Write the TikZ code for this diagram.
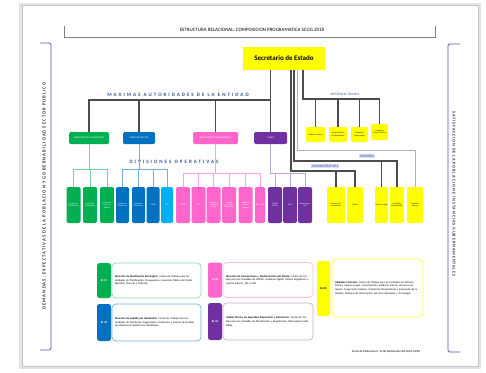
\documentclass[tikz,border=0pt]{standalone}
\usepackage{fontspec}
\setmainfont{Carlito}
\newfontfamily\spaced[LetterSpace=40]{Carlito}
\newfontfamily\sidefont[LetterSpace=22]{Carlito}

\definecolor{cgreen}{HTML}{00B050}
\definecolor{cblue}{HTML}{0070C0}
\definecolor{clight}{HTML}{00B0F0}
\definecolor{cpink}{HTML}{FF66CC}
\definecolor{cpurple}{HTML}{7030A0}
\definecolor{cyellow}{HTML}{FFFF00}
\definecolor{ctext}{HTML}{2F5597}

\tikzset{
  conn/.style={draw=black!70, line width=1.1pt},
  thin conn/.style={draw=black!30, line width=0.9pt},
  head/.style={fill=#1, rounded corners=1.5pt, minimum height=12pt, inner sep=0pt,
    text=white, font=\fontsize{2.4}{2.8}\selectfont},
  div/.style={fill=#1, rounded corners=2pt, minimum width=14pt, minimum height=36pt,
    inner sep=0pt, text width=12pt, align=center, text=white,
    font=\fontsize{2}{2.4}\selectfont},
  tab/.style={fill=#1, rounded corners=2.5pt, minimum width=14pt, inner sep=0pt,
    text=white, font=\bfseries\fontsize{2.8}{3}\selectfont},
  note/.style={draw=#1, line width=0.7pt, rounded corners=4pt, inner sep=3pt,
    text width=83pt, align=left, font=\fontsize{2.7}{3.7}\selectfont},
  tag/.style={fill=blue!12, inner sep=0.6pt, text=ctext, font=\fontsize{3.6}{4}\selectfont}
}

\begin{document}
\begin{tikzpicture}[x=1pt,y=-1pt]
  \useasboundingbox (0,0) rectangle (486,372);

  % Page
  \fill[gray!22] (19,3) rectangle (481,369);
  \filldraw[fill=white, draw=gray!45] (22,5) rectangle (478,366);

  % Title
  \draw[gray, line width=0.6pt] (64,26) -- (64,37) -- (435,37) -- (435,26);
  \node[font=\fontsize{5}{5.5}\selectfont] (title) at (252,30)
    {ESTRUCTURA RELACIONAL: COMPOSICION PROGRAMATICA SCGG 2018};

  % Side brackets
  \draw[blue!35!gray, line width=0.8pt, rounded corners=1.5pt]
    (40,43) -- (51,43) -- (51,350) -- (40,350);
  \node[rotate=90, font=\sidefont\bfseries\fontsize{4.7}{5}\selectfont, text=black!80]
    (left) at (44.5,196) {DEMANDAS, EXPECTATIVAS DE LA POBLACION Y GOBERNABILIDAD SECTOR PUBLICO};
  \draw[blue!35!gray, line width=0.8pt, rounded corners=1.5pt]
    (460,44) -- (448,44) -- (448,352) -- (460,352);
  \node[rotate=-90, font=\sidefont\bfseries\fontsize{4.2}{5}\selectfont, text=black!80]
    (right) at (454,194) {SATISFACCION DE LA POBLACION E INSTANCIAS GUBERNAMENTALES};

  % Secretario
  \node[fill=cyellow, minimum width=82pt, minimum height=23pt, inner sep=0pt,
    font=\bfseries\fontsize{7}{8}\selectfont] (s) at (284,58.5) {Secretario de Estado};

  % Maximas autoridades
  \node[font=\spaced\bfseries\fontsize{5}{6}\selectfont, text=ctext] (mt) at (178,95)
    {MAXIMAS AUTORIDADES DE LA ENTIDAD};
  \node[head=cgreen, minimum width=40pt] (m1) at (89,138) {DIRECCIÓN DE PLANIFICACIÓN};
  \node[head=cblue, minimum width=32pt] (m2) at (139,138) {DIRECCIÓN DE GPR};
  \node[head=cpink, minimum width=45pt] (m3) at (215.5,138) {DIRECCIÓN DE TRANSPARENCIA};
  \node[head=cpurple, minimum width=33pt] (m4) at (270.5,138) {UTSAN};

  \coordinate (mb) at (0,100);
  \draw[conn] (s.south -| m4.north) -- (m4.north);
  \draw[conn] (m1.north) |- (mb -| m4.north);
  \draw[conn] (m2.north) -- (m2.north |- mb);
  \draw[conn] (m3.north) -- (m3.north |- mb);

  % Divisiones operativas
  \node[font=\spaced\bfseries\fontsize{5}{6}\selectfont, text=ctext] (dt) at (174,162)
    {DIVISIONES OPERATIVAS};
  \node[div=cgreen] (g1) at (73.5,205) {Unidad de Planificación};
  \node[div=cgreen] (g2) at (90,205) {Unidad de Presupuesto};
  \node[div=cgreen] (g3) at (107,205) {Unidad de Inversión Pública};
  \node[div=cblue, minimum width=13pt] (b1) at (122.5,205) {Unidad de Monitoreo};
  \node[div=cblue, minimum width=13pt] (b2) at (138.5,205) {Unidad de Evaluación};
  \node[div=cblue, minimum width=13pt] (b3) at (153,205) {SIGPR};
  \node[div=clight, minimum width=12pt, text width=11pt] (b4) at (167,205) {CDI};
  \node[div=cpink] (p1) at (183,205) {ONCAE};
  \node[div=cpink] (p2) at (198.5,205) {UGD};
  \node[div=cpink] (p3) at (213.5,205) {Unidad de Gobierno Digital};
  \node[div=cpink] (p4) at (229,205) {Unidad de Mejora Regulatoria};
  \node[div=cpink] (p5) at (245.5,205) {Unidad de Control Interno};
  \node[div=cpink, minimum width=10pt, text width=9pt] (p6) at (260,205) {TSC e IAIP};
  \node[div=cpurple] (u1) at (275,205) {Unidad Técnica};
  \node[div=cpurple] (u2) at (290,205) {SAN};
  \node[div=cpurple] (u3) at (305,205) {Observatorio SAN};

  \coordinate (gb) at (0,169);
  \coordinate (pb) at (0,173);
  \foreach \c in {g1,g2,g3}
    \draw[cgreen!55, line width=0.9pt] (m1.south) -- (m1.south |- gb) -| (\c.north);
  \foreach \c in {b1,b2,b3,b4}
    \draw[cblue!55, line width=0.9pt] (m2.south) -- (m2.south |- gb) -| (\c.north);
  \foreach \c in {p1,p2,p3,p4,p5,p6}
    \draw[cpink!60, line width=0.9pt] (m3.south) -- (m3.south |- pb) -| (\c.north);
  \foreach \c in {u1,u2,u3}
    \draw[cpurple!45, line width=0.9pt] (m4.south) -- (m4.south |- pb) -| (\c.north);

  % Asistencia tecnica
  \node[tag, fill=none, font=\fontsize{3.4}{4}\selectfont] (tt) at (345,94) {ASISTENCIA TECNICA};
  \node[div=cyellow, text=black, minimum width=19pt, text width=17pt, minimum height=15pt] (t1) at (315.5,134.5) {Unidad de Apoyo};
  \node[div=cyellow, text=black, minimum width=18pt, text width=16pt, minimum height=15pt] (t2) at (338,134.5) {Unidad Técnica de Planificación};
  \node[div=cyellow, text=black, minimum width=17pt, text width=15pt, minimum height=15pt] (t3) at (359.5,134.5) {Unidad de Apoyo Legal};
  \node[div=cyellow, text=black, minimum width=17pt, text width=15pt, minimum height=16pt] (t4) at (379.5,132) {Unidad de Apoyo Técnico};

  \coordinate (tb) at (303,99);
  \foreach \c in {t1,t2,t3,t4}
    \draw[conn] (s.south -| tb) -- (tb) -| (\c.north);

  % Administrativas
  \node[tag] (at) at (325,166) {ADMINISTRATIVAS};
  \node[div=cyellow, text=black, minimum width=18pt, text width=16pt] (a1) at (336,205) {Gerencia Administrativa};
  \node[div=cyellow, text=black, minimum width=16pt, text width=14pt] (a2) at (355,205) {RRHH};

  \coordinate (ab) at (291,171);
  \foreach \c in {a1,a2}
    \draw[conn] (s.south -| ab) -- (ab) -| (\c.north);

  % Asesoria
  \node[tag] (rt) at (367,156) {ASESORIA};
  \node[div=cyellow, text=black, minimum width=13pt] (r1) at (381.5,205) {Asesoría Legal};
  \node[div=cyellow, text=black] (r2) at (397,205) {Unidad de Comunicación};
  \node[div=cyellow, text=black, minimum width=16pt, text width=14pt] (r3) at (415,205) {Auditoría Interna};

  \coordinate (rb) at (294,161);
  \coordinate (rc) at (297,150);
  \foreach \c in {r1,r2}
    \draw[conn] (s.south -| rb) -- (rb) -| (\c.north);
  \draw[thin conn] (s.south -| rc) -- (rc) -| (r3.north);

  % Legend
  \node[tab=cgreen, minimum height=35pt] (l1) at (104,280.5) {RL 01};
  \node[note=cgreen!45, minimum height=35pt] (n1) at (156.5,280.5)
    {\textbf{Dirección de Planificación Estratégica:} Centro de Trabajo para las Unidades de Planificación, Presupuesto e Inversión Pública del Poder Ejecutivo, Normas y Sistemas.};
  \node[tab=cblue, minimum height=37pt] (l2) at (104,322.5) {RL 02};
  \node[note=cblue!55, minimum height=37pt] (n2) at (156.5,322.5)
    {\textbf{Dirección de Gestión por Resultados:} Centro de Trabajo para las Unidades de Monitoreo, Seguimiento, Evaluación y Control de Gestión del Sistema de Gestión por Resultados.};
  \node[tab=cpink, minimum height=35pt] (l3) at (215,280) {RL 03};
  \node[note=cpink!45, minimum height=35pt, text width=84pt] (n3) at (268,280)
    {\textbf{Dirección de Transparencia y Modernización del Estado:} Centro de Trabajo para las Unidades de ONCAE, Gobierno Digital, Mejora Regulatoria y Control Interno, TSC e IAIP.};
  \node[tab=cpurple, minimum height=37pt] (l4) at (215,321.5) {RL 04};
  \node[note=cpurple!40, minimum height=37pt, text width=84pt] (n4) at (268,321.5)
    {\textbf{Unidad Técnica de Seguridad Alimentaria y Nutricional:} Centro de Trabajo para las Unidades de Planificación y Seguimiento, Observatorio SAN, SISAN.};
  \node[tab=cyellow, text=black, minimum width=13pt, minimum height=55pt] (l5) at (323.5,288.5) {RL 05};
  \node[note=cyellow!70, minimum height=58pt, text width=85pt] (n5) at (377.5,288)
    {\textbf{Unidades Centrales:} Centro de Trabajo para las Unidades de Administración, Asesoría Legal, Comunicación, Auditoría Interna, Recursos Humanos, Cooperación Externa, Unidad de Planeamiento y Evaluación de la Gestión, Sistemas de Información, Servicios Generales y Tecnología.};

  % Footer
  \node[font=\fontsize{3}{3.5}\selectfont] (foot) at (386,352)
    {Fecha de Elaboración: 10 de Septiembre del 2018, UPEG};
\end{tikzpicture}
\end{document}
